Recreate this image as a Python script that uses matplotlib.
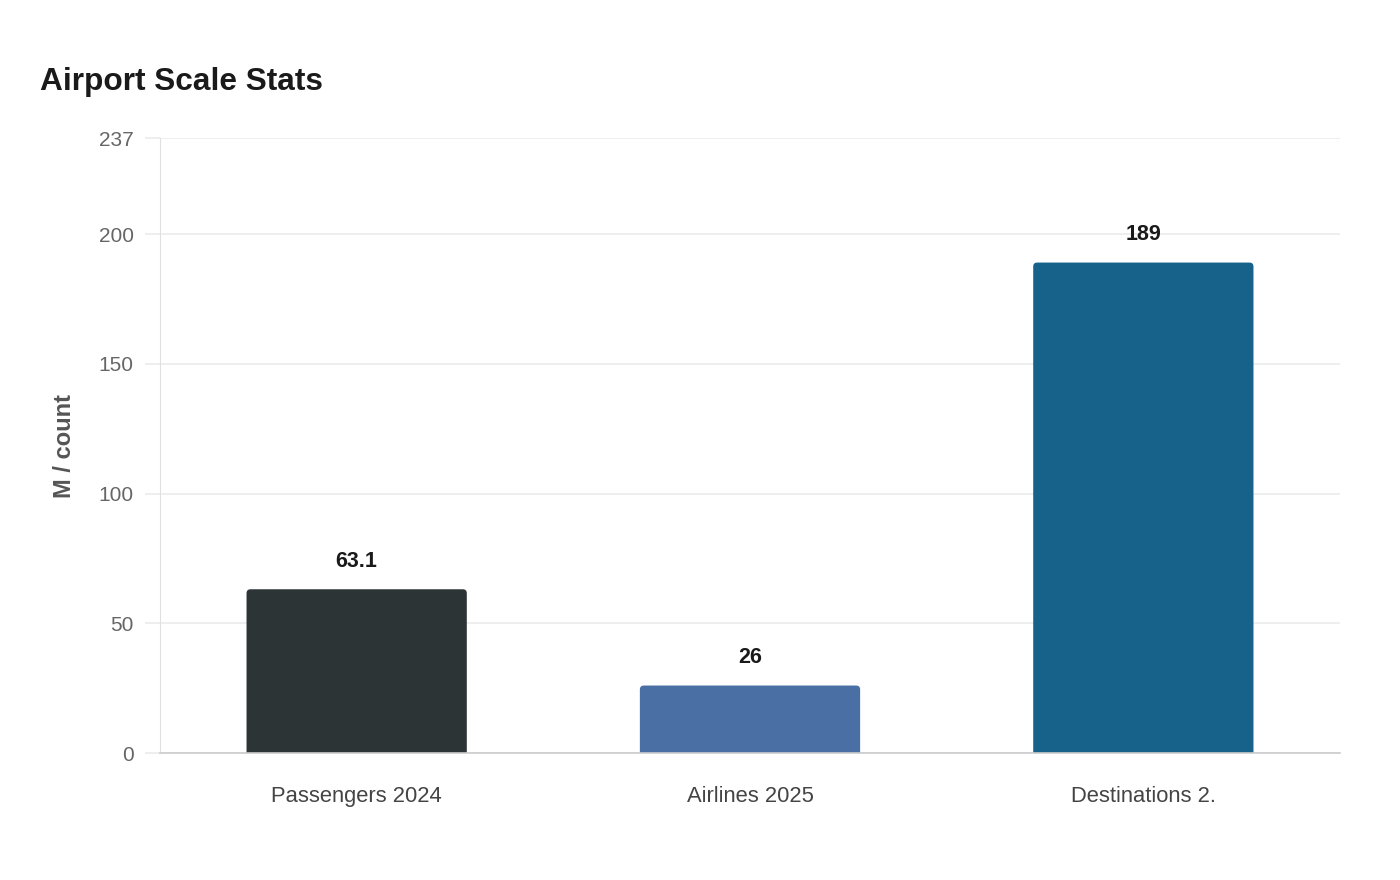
import matplotlib
matplotlib.use("Agg")
import matplotlib.pyplot as plt
from matplotlib.patches import FancyBboxPatch

# data
categories = ["Passengers 2024", "Airlines 2025", "Destinations 2."]
values = [63.1, 26, 189]
labels = ["63.1", "26", "189"]
bar_colors = ["#2d3436", "#4a6fa5", "#17628a"]
y_ticks = [0, 50, 100, 150, 200, 237]
y_max = 237

plt.rcParams['font.family'] = ['Liberation Sans', 'DejaVu Sans']

fig = plt.figure(figsize=(14, 8.8), dpi=100)
ax = fig.add_axes([160 / 1400, 127 / 880, 1180 / 1400, 615 / 880])

x = list(range(len(categories)))
bars = ax.bar(x, values, width=0.56, color="none", edgecolor="none")

# rounded top corners, built from the bar geometry
px_x = 1180 / 3.0
px_y = 615 / y_max
r = 4
for b, c in zip(bars, bar_colors):
    x0, w, h = b.get_x(), b.get_width(), b.get_height()
    fb = FancyBboxPatch((x0, -r / px_y * 2), w, h + r / px_y * 2,
                        boxstyle="round,pad=0,rounding_size=%f" % (r / px_x),
                        mutation_aspect=px_x / px_y,
                        facecolor=c, edgecolor="none", zorder=2)
    ax.add_patch(fb)

for xi, v, t in zip(x, values, labels):
    ax.annotate(t, (xi, v), xytext=(0, 28), textcoords="offset pixels",
                ha="center", va="center", fontsize=15.5, fontweight="bold",
                color="#1a1a1a")

ax.set_xlim(-0.5, 2.5)
ax.set_ylim(0, y_max)
ax.set_yticks(y_ticks)
ax.set_yticklabels([str(t) for t in y_ticks])
ax.set_xticks(x)
ax.set_xticklabels(categories)

ax.grid(axis="y", color="#ebebeb", linewidth=1.2, zorder=0)
ax.set_axisbelow(True)
ax.tick_params(axis="y", length=11, width=1.2, color="#ebebeb", pad=8,
               labelsize=15, labelcolor="#666666")
ax.tick_params(axis="x", length=0, pad=24, labelsize=15.8, labelcolor="#444444")

for s in ["top", "right"]:
    ax.spines[s].set_visible(False)
ax.spines["left"].set_color("#e0e0e0")
ax.spines["bottom"].set_color("#cccccc")
ax.spines["bottom"].set_linewidth(1.2)
ax.spines["bottom"].set_zorder(3)

ax.set_ylabel("M / count", fontsize=17, fontweight="bold", color="#555555",
              labelpad=0)
ax.yaxis.set_label_coords(-(160 - 76) / 1180, 0.5)

fig.text(40 / 1400, 1 - 82 / 880, "Airport Scale Stats", fontsize=22.8,
         fontweight="bold", color="#1a1a1a", ha="left", va="center")

fig.savefig("out.png", dpi=100, facecolor="white")
